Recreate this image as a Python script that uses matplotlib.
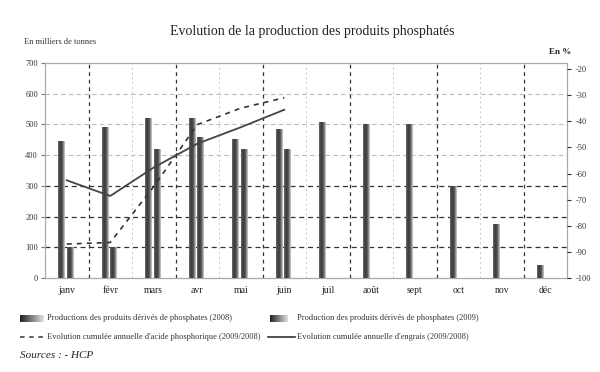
import numpy as np
import matplotlib

matplotlib.use("Agg")
import matplotlib.pyplot as plt
from matplotlib.lines import Line2D

plt.rcParams["font.family"] = ["Liberation Serif", "DejaVu Serif"]

months = ["janv", "févr", "mars", "avr", "mai", "juin", "juil", "août", "sept", "oct", "nov", "déc"]
prod_2008 = [445, 490, 518, 519, 451, 483, 505, 500, 500, 298, 175, 40]
prod_2009 = [100, 100, 418, 456, 418, 418]
# cumulative annual change, % (right axis)
acide_pct = [-87, -86.4, -65, -41.3, -35, -31]
engrais_pct = [-62.6, -68.6, -57.7, -48.6, -42.3, -35.6]

left_ticks = [0, 100, 200, 300, 400, 500, 600, 700]
right_ticks = [-100, -90, -80, -70, -60, -50, -40, -30, -20]

W, H = 600, 372
fig = plt.figure(figsize=(W / 100, H / 100), dpi=100)
ax = fig.add_axes([45 / W, 1 - 278 / H, (567 - 45) / W, (278 - 63) / H])
ax2 = ax.twinx()

x = np.arange(len(months))
bw = 0.15
grad = np.linspace(0, 1, 40).reshape(1, -1)
cmap = matplotlib.colors.LinearSegmentedColormap.from_list(
    "bar", ["#6c6c6c", "#353535", "#5a5a5a", "#d8d8d8"])


def gradient_bar(xc, h):
    ax.imshow(grad, extent=(xc - bw / 2, xc + bw / 2, 0, h), aspect="auto",
              cmap=cmap, zorder=3, interpolation="bicubic")


for i, v in enumerate(prod_2008):
    gradient_bar(x[i] - 0.12, v)
for i, v in enumerate(prod_2009):
    gradient_bar(x[i] + 0.075, v)

ax.set_xlim(-0.5, len(months) - 0.5)
ax.set_ylim(0, 700)
ax.set_yticks(left_ticks)
ax.set_yticklabels([str(t) for t in left_ticks], fontsize=6, color="#333333")
ax.set_xticks(x)
ax.set_xticklabels(months, fontsize=7, color="#222222")
ax.tick_params(axis="x", length=0, pad=6)
ax.tick_params(axis="y", length=3, color="#777777", pad=2)

# grid
for t in [100, 200, 300]:
    ax.axhline(t, color="#333333", ls=(0, (4, 3)), lw=0.9, zorder=1)
for t in [400, 500, 600]:
    ax.axhline(t, color="#bbbbbb", ls=(0, (4, 3)), lw=0.8, zorder=1)
for k in range(1, len(months)):
    if k % 2:
        ax.axvline(k - 0.5, color="#333333", ls=(0, (3, 3)), lw=0.9, zorder=1)
    else:
        ax.axvline(k - 0.5, color="#c8c8c8", ls=(0, (2, 3)), lw=0.7, zorder=1)

for sp in ax.spines.values():
    sp.set_color("#aaaaaa")
    sp.set_linewidth(0.9)
for sp in ax2.spines.values():
    sp.set_visible(False)

ax2.plot(x[:len(acide_pct)], acide_pct, color="#333333", lw=1.2, ls=(0, (3, 3)), zorder=4)
ax2.plot(x[:len(engrais_pct)], engrais_pct, color="#444444", lw=1.3, zorder=4)
ax2.set_ylim(-100, -17.7)
ax2.set_yticks(right_ticks)
ax2.set_yticklabels([str(t) for t in right_ticks], fontsize=6, color="#333333")
ax2.tick_params(axis="y", length=3, color="#333333", pad=3)

# text and legend on a pixel-coordinate overlay
ov = fig.add_axes([0, 0, 1, 1], zorder=-1)
ov.set_xlim(0, W)
ov.set_ylim(H, 0)
ov.axis("off")

ov.text(312, 32, "Evolution de la production des produits phosphatés", fontsize=10,
        ha="center", va="center", color="#222222")
ov.text(24, 42, "En milliers de tonnes", fontsize=6, ha="left", va="center", color="#333333")
ov.text(560, 52, "En %", fontsize=6.5, ha="center", va="center", color="#222222", weight="bold")

leg_grad = np.linspace(0, 1, 40).reshape(1, -1)
lcmap = matplotlib.colors.LinearSegmentedColormap.from_list("leg", ["#222222", "#e0e0e0"])
ov.imshow(leg_grad, extent=(20, 44, 322, 315), aspect="auto", cmap=lcmap)
ov.imshow(leg_grad, extent=(270, 288, 322, 315), aspect="auto", cmap=lcmap)
ov.set_xlim(0, W)
ov.set_ylim(H, 0)
ov.text(47, 318.5, "Productions des produits dérivés de phosphates (2008)", fontsize=6,
        ha="left", va="center", color="#333333")
ov.text(297, 318.5, "Production des produits dérivés de phosphates (2009)", fontsize=6,
        ha="left", va="center", color="#333333")
ov.add_line(Line2D([20, 44], [337, 337], color="#333333", lw=1.1, ls=(0, (3, 3))))
ov.add_line(Line2D([268, 295], [337, 337], color="#333333", lw=1.2))
ov.text(47, 337, "Evolution cumulée annuelle d'acide phosphorique (2009/2008)", fontsize=6,
        ha="left", va="center", color="#333333")
ov.text(297, 337, "Evolution cumulée annuelle d'engrais (2009/2008)", fontsize=6,
        ha="left", va="center", color="#333333")
ov.text(20, 356, "Sources : - HCP", fontsize=8, ha="left", va="center", style="italic",
        color="#222222")

fig.savefig("out.png", dpi=100)
